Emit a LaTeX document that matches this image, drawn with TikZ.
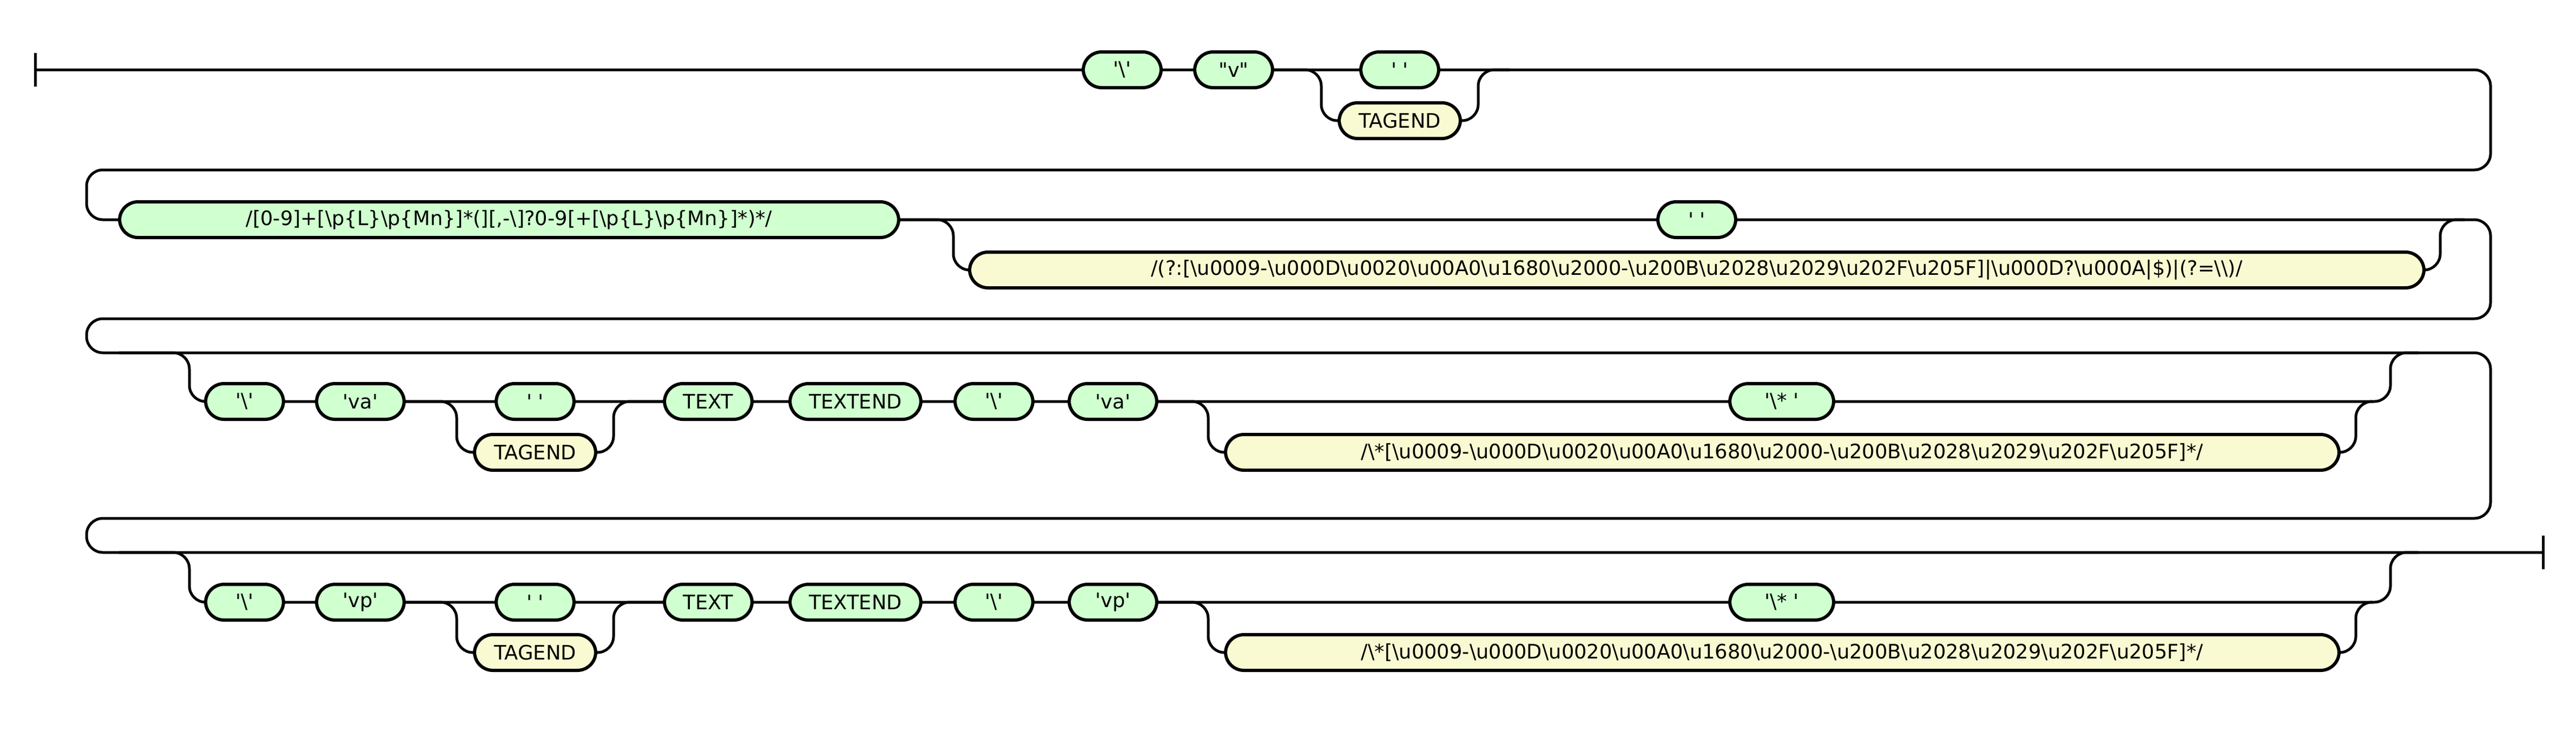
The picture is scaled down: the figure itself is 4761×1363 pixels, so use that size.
\documentclass[tikz,border=0pt]{standalone}
\usepackage{fontspec}
\setmainfont{DejaVu Sans}
\definecolor{tgreen}{HTML}{D0FFD0}
\definecolor{tyellow}{HTML}{FAFAD2}
\newcommand\rsq{\textquotesingle}
\newcommand\rdq{\textquotedbl}
\newcommand\rbs{\textbackslash}
\newcommand\ru[1]{\textbackslash u#1}

\begin{document}
\begin{tikzpicture}[
	x=0.25pt, y=-0.25pt
	,every node/.append style={font=\fontsize{9.2pt}{11pt}\selectfont}
	,rrbox/.style={draw, line width=1.5pt, rounded corners=8.5pt, minimum height=16.5pt, inner sep=0pt, minimum width=#1}
	,gr/.style={rrbox=#1, fill=tgreen}
	,yl/.style={rrbox=#1, fill=tyellow}
	,rail/.style={line width=1.25pt, rounded corners=7.5pt}
]
	\useasboundingbox (0,0) rectangle (4761,1363);

	\coordinate (st) at (65,129);
	\coordinate (c1a) at (2442,129);
	\coordinate (c1b) at (2732,129);
	\coordinate (j1) at (2790,129);
	\coordinate (r1) at (4603,129);
	\coordinate (l1) at (160,314);
	\coordinate (c2a) at (1762,406);
	\coordinate (c2b) at (4510,406);
	\coordinate (j2) at (4555,406);
	\coordinate (r2) at (4603,406);
	\coordinate (l2) at (160,589);
	\coordinate (s3) at (220,652);
	\coordinate (o3a) at (350,652);
	\coordinate (c3a) at (844,742);
	\coordinate (c3b) at (1134,742);
	\coordinate (c3c) at (2233,742);
	\coordinate (c3d) at (4354,742);
	\coordinate (q3) at (4386,742);
	\coordinate (o3b) at (4418,742);
	\coordinate (j3) at (4470,652);
	\coordinate (r3) at (4603,652);
	\coordinate (l3) at (160,958);
	\coordinate (s4) at (220,1021);
	\coordinate (o4a) at (350,1021);
	\coordinate (c4a) at (844,1113);
	\coordinate (c4b) at (1134,1113);
	\coordinate (c4c) at (2233,1113);
	\coordinate (c4d) at (4354,1113);
	\coordinate (q4) at (4386,1113);
	\coordinate (o4b) at (4418,1113);
	\coordinate (j4) at (4470,1021);
	\coordinate (en) at (4700,1021);

	\node [gr=36pt] (bs1) at (2074,129) {\rsq\rbs\rsq};
	\node [gr=36pt] (v1) at (2280,129) {\rdq v\rdq};
	\node [gr=36pt] (sp1) at (2587,129) {\rsq\ \rsq};
	\node [yl=56pt] (tg1) at (2587,223) {TAGEND};

	\node [gr=360pt] (rx1) at (941,406) {/[0-9]+[\rbs p\{L\}\rbs p\{Mn\}]*(][,-\rbs]?0-9[+[\rbs p\{L\}\rbs p\{Mn\}]*)*/};
	\node [gr=36pt] (sp2) at (3136,406) {\rsq\ \rsq};
	\node [yl=672pt] (ws1) at (3136,499) {/(?:[\ru{0009}-\ru{000D}\ru{0020}\ru{00A0}\ru{1680}\ru{2000}-\ru{200B}\ru{2028}\ru{2029}\ru{202F}\ru{205F}]|\ru{000D}?\ru{000A}|\$)|(?=\rbs\rbs)/};

	\node [gr=36pt] (bs2) at (452,742) {\rsq\rbs\rsq};
	\node [gr=40.5pt] (va1) at (666,742) {\rsq va\rsq};
	\node [gr=36pt] (sp3) at (989,742) {\rsq\ \rsq};
	\node [yl=56pt] (tg2) at (989,836) {TAGEND};
	\node [gr=40.5pt] (tx1) at (1309,742) {TEXT};
	\node [gr=60.5pt] (te1) at (1581,742) {TEXTEND};
	\node [gr=36pt] (bs3) at (1837,742) {\rsq\rbs\rsq};
	\node [gr=40.5pt] (va2) at (2057,742) {\rsq va\rsq};
	\node [gr=48pt] (as1) at (3293,742) {\rsq\rbs*\ \rsq};
	\node [yl=514.5pt] (cm1) at (3294,836) {/\rbs*[\ru{0009}-\ru{000D}\ru{0020}\ru{00A0}\ru{1680}\ru{2000}-\ru{200B}\ru{2028}\ru{2029}\ru{202F}\ru{205F}]*/};

	\node [gr=36pt] (bs4) at (452,1113) {\rsq\rbs\rsq};
	\node [gr=40.5pt] (vp1) at (666,1113) {\rsq vp\rsq};
	\node [gr=36pt] (sp4) at (989,1113) {\rsq\ \rsq};
	\node [yl=56pt] (tg3) at (989,1206) {TAGEND};
	\node [gr=40.5pt] (tx2) at (1309,1113) {TEXT};
	\node [gr=60.5pt] (te2) at (1581,1113) {TEXTEND};
	\node [gr=36pt] (bs5) at (1837,1113) {\rsq\rbs\rsq};
	\node [gr=40.5pt] (vp2) at (2057,1113) {\rsq vp\rsq};
	\node [gr=48pt] (as2) at (3293,1113) {\rsq\rbs*\ \rsq};
	\node [yl=514.5pt] (cm2) at (3294,1206) {/\rbs*[\ru{0009}-\ru{000D}\ru{0020}\ru{00A0}\ru{1680}\ru{2000}-\ru{200B}\ru{2028}\ru{2029}\ru{202F}\ru{205F}]*/};

	\draw [rail] (st) -- ++(0,-31) (st) -- ++(0,31);
	\draw [rail] (st) -- (bs1) -- (v1) -- (sp1) -- (r1) |- (l1) |- (rx1.west);
	\draw [rail] (v1) -- (c1a) |- (tg1.west);
	\draw [rail] (tg1.east) -| (c1b) -- (j1);

	\draw [rail] (rx1) -- (sp2) -- (r2) |- (l2) |- (r3) |- (l3) |- (en);
	\draw [rail] (rx1) -- (c2a) |- (ws1.west);
	\draw [rail] (ws1.east) -| (c2b) -- (j2);

	\draw [rail] (s3) -- (o3a) |- (bs2.west);
	\draw [rail] (bs2) -- (va1) -- (sp3) -- (tx1) -- (te1) -- (bs3) -- (va2) -- (as1) -- (o3b) |- (j3);
	\draw [rail] (va1) -- (c3a) |- (tg2.west);
	\draw [rail] (tg2.east) -| (c3b) -- (tx1);
	\draw [rail] (va2) -- (c3c) |- (cm1.west);
	\draw [rail] (cm1.east) -| (c3d) -- (q3);

	\draw [rail] (s4) -- (o4a) |- (bs4.west);
	\draw [rail] (bs4) -- (vp1) -- (sp4) -- (tx2) -- (te2) -- (bs5) -- (vp2) -- (as2) -- (o4b) |- (j4);
	\draw [rail] (vp1) -- (c4a) |- (tg3.west);
	\draw [rail] (tg3.east) -| (c4b) -- (tx2);
	\draw [rail] (vp2) -- (c4c) |- (cm2.west);
	\draw [rail] (cm2.east) -| (c4d) -- (q4);

	\draw [rail] (en) -- ++(0,-31) (en) -- ++(0,31);
\end{tikzpicture}
\end{document}
